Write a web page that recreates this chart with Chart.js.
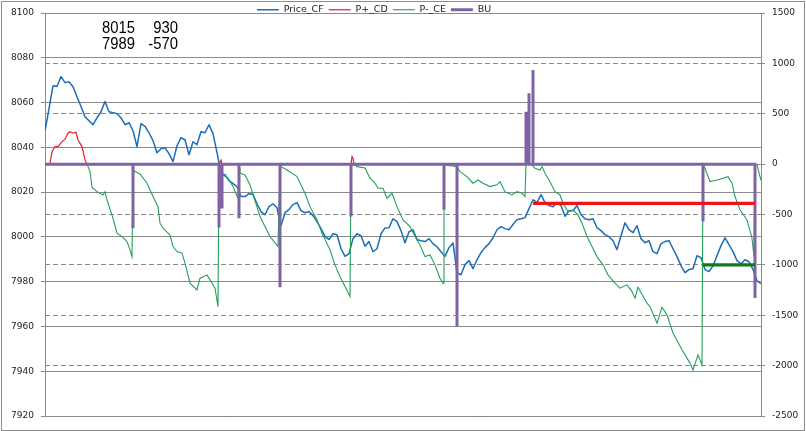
<!DOCTYPE html>
<html>
<head>
<meta charset="utf-8">
<script src="https://cdn.jsdelivr.net/npm/chart.js@4.4.1/dist/chart.umd.min.js"></script>
<style>
html,body{margin:0;padding:0;background:#fff;}
#wrap{width:806px;height:431px;}
</style>
</head>
<body>
<div id="wrap"><canvas id="c" width="806" height="431"></canvas></div>
<script>
// ---------- DATA ----------
// Time index runs 0..716 (one step per sample of the original series)
const PRICE_STEP = 4;
// Price_CF (left axis), one value every PRICE_STEP samples
const priceCF = [
  8047.4, 8057.3, 8067.5, 8067.2, 8071.6, 8068.9, 8069.3, 8067.1, 8062.6, 8058.2,
  8053.7, 8051.9, 8050.1, 8053.2, 8055.9, 8060.5, 8055.9, 8055.5, 8055.0, 8053.2,
  8050.1, 8051.0, 8047.4, 8040.3, 8050.6, 8049.4, 8046.5, 8043.0, 8037.6, 8039.4,
  8039.8, 8037.2, 8033.6, 8040.7, 8044.3, 8043.4, 8036.7, 8042.5, 8041.2, 8047.0,
  8046.5, 8050.1, 8046.1, 8037.6, 8028.2, 8027.8, 8025.1, 8023.8, 8022.4, 8018.0,
  8018.0, 8019.3, 8018.9, 8014.8, 8011.3, 8009.9, 8013.5, 8014.8, 8013.0, 8005.0,
  8010.8, 8012.2, 8014.4, 8015.3, 8011.7, 8010.8, 8011.3, 8009.5, 8006.8, 8003.7,
  8000.2, 7998.8, 8001.4, 8001.0, 7994.7, 7991.3, 7992.5, 7999.2, 8001.4, 8000.5,
  7995.8, 7997.9, 7993.4, 7994.7, 8001.4, 8004.0, 8004.1, 8008.1, 8006.8, 8002.8,
  7997.4, 8002.3, 8003.2, 7998.8, 7998.3, 7997.9, 7999.2, 7997.0, 7995.6, 7993.4,
  7991.3, 7995.2, 7997.3, 7984.0, 7983.1, 7987.6, 7989.4, 7985.8, 7989.8, 7993.0,
  7995.2, 7997.0, 7999.6, 8003.2, 8004.6, 8003.7, 8003.2, 8005.5, 8007.7, 8008.1,
  8008.6, 8012.6, 8016.6, 8015.3, 8018.9, 8015.3, 8014.0, 8013.5, 8015.3, 8014.0,
  8009.2, 8011.7, 8011.7, 8014.0, 8009.9, 8008.1, 8007.7, 8008.1, 8004.1, 8002.8,
  8001.0, 8000.1, 7998.3, 7994.3, 8000.5, 8006.3, 8003.2, 8001.9, 8005.0, 7999.2,
  7997.4, 7998.3, 7993.4, 7992.5, 7997.0, 7997.9, 7998.3, 7994.7, 7991.2, 7987.1,
  7984.0, 7985.4, 7985.8, 7991.6, 7990.7, 7985.4, 7984.5, 7987.1, 7991.6, 7996.1,
  7999.6, 7996.5, 7993.4, 7989.4, 7988.0, 7989.8, 7988.9, 7985.4, 7980.4, 7979.1
];
// P+_CD (right axis): [time index, value]
const pPlus = [
  [0,0],[5,9],[7,124],[10,174],[13,174],[17,223],[20,247],[23,307],[25,322],[28,307],
  [31,316],[33,240],[37,174],[40,42],[42,0],[174,0],[176,40],[177,0],[306,0],[307,75],
  [308,60],[309,0],[710,0]
];
// P-_CE (right axis): [time index, value]
const pMinus = [
  [0,0],[42,0],[45,-74],[47,-229],[52,-273],[58,-306],[60,-273],[62,-355],[68,-537],[72,-685],
  [77,-719],[82,-769],[85,-851],[87,-918],[88,-50],[90,-74],[95,-97],[102,-189],[108,-322],[113,-422],
  [115,-586],[118,-636],[125,-703],[128,-818],[132,-868],[137,-884],[140,-983],[145,-1182],[152,-1248],[155,-1132],
  [162,-1099],[165,-1149],[170,-1232],[173,-1414],[174,0],[176,0],[178,-107],[183,-140],[188,-223],[193,-338],
  [194,-40],[195,-90],[200,-107],[205,-206],[215,-521],[225,-719],[233,-818],[235,-20],[236,-25],[242,-58],
  [252,-124],[260,-289],[265,-422],[272,-554],[277,-686],[285,-851],[290,-1000],[295,-1116],[300,-1215],[305,-1314],
  [306,0],[309,0],[312,-25],[320,-38],[325,-140],[330,-189],[333,-239],[338,-239],[342,-338],[347,-289],
  [352,-422],[358,-554],[365,-620],[372,-752],[375,-802],[380,-918],[385,-901],[390,-1000],[395,-1132],[398,-1181],
  [399,0],[400,-8],[412,-25],[415,-74],[422,-124],[428,-189],[433,-157],[438,-189],[445,-223],[452,-206],
  [455,-174],[460,-273],[467,-306],[472,-273],[477,-289],[480,-322],[481,0],[486,0],[490,-41],[495,-58],
  [497,-25],[500,-90],[505,-174],[510,-273],[515,-306],[518,-388],[523,-471],[528,-454],[533,-504],[537,-586],
  [542,-719],[547,-818],[552,-918],[558,-1000],[563,-1099],[570,-1182],[575,-1231],[582,-1198],[587,-1265],[590,-1330],
  [593,-1221],[602,-1380],[605,-1414],[612,-1578],[617,-1420],[622,-1496],[628,-1677],[637,-1843],[645,-1975],[648,-2042],
  [653,-1893],[657,-1992],[658,0],[660,-41],[665,-174],[672,-157],[678,-140],[683,-124],[687,-189],[690,-322],
  [695,-454],[702,-554],[707,-735],[709,-918],[710,0],[712,-8],[715,-124],[716,-160]
];
// BU (right axis): events [time index, value]; zero elsewhere up to buEndT
const buEvents = [
  [88,-636],[174,-630],[177,-440],[194,-537],[235,-1221],[306,-520],[399,-454],
  [412,-1612],[481,521],[484,703],[488,934],[658,-570],[710,-1330]
];
const buEndT = 710;
// Horizontal price levels (left axis)
const levelValues = [8015, 7987.5];
const levelStartT = [488, 658];
const levelEndT = [710, 710];
// Note text (top-left)
const noteRow1 = ['8015', '930'];
const noteRow2 = ['7989', '-570'];
// Axis ticks
const leftTicks = [7920, 7940, 7960, 7980, 8000, 8020, 8040, 8060, 8080, 8100];
const rightTicks = [-2500, -2000, -1500, -1000, -500, 0, 500, 1000, 1500];
const seriesNames = ['Price_CF', 'P+_CD', 'P-_CE', 'BU'];

// ---------- BUILD ----------
const toXY = pairs => pairs.map(([t, v]) => ({x: t, y: v}));
const priceData = priceCF.map((v, i) => ({x: i * PRICE_STEP, y: v}));
const buData = [{x: 0, y: 0}];
buEvents.forEach(([t, v]) => { buData.push({x: t, y: 0}, {x: t, y: v}, {x: t, y: 0}); });
buData.push({x: buEndT, y: 0});
const levelData = levelValues.map((v, i) => [{x: levelStartT[i], y: v}, {x: levelEndT[i], y: v}]);

const GRID = '#8a8a8a';
const LEGEND_SHIFT = -29;

const framePlugin = {
  id: 'frame',
  afterLayout(chart) {
    const lg = chart.legend;
    if (lg) { lg.left += LEGEND_SHIFT; lg.right += LEGEND_SHIFT; lg.bottom += 6; }
  },
  beforeDraw(chart) {
    const c = chart.ctx;
    c.save();
    c.fillStyle = '#ffffff';
    c.fillRect(0, 0, chart.width, chart.height);
    c.strokeStyle = '#8c8c8c';
    c.lineWidth = 1;
    c.strokeRect(1.5, 1.5, chart.width - 3, chart.height - 2);
    c.restore();
  },
  afterDraw(chart) {
    const c = chart.ctx;
    const a = chart.chartArea;
    c.save();
    c.fillStyle = '#000';
    c.textAlign = 'right';
    c.textBaseline = 'alphabetic';
    c.font = '17px "Liberation Sans Narrow", "Liberation Sans", sans-serif';
    const w = c.measureText('8888').width;
    const sx = Math.min(1, 33 / w);
    const rows = [noteRow1, noteRow2];
    const colRight = [a.left + 90, a.left + 133];
    rows.forEach((row, r) => {
      row.forEach((txt, k) => {
        c.save();
        c.translate(colRight[k], a.top + 20 + r * 16);
        c.scale(sx, 1);
        c.fillText(txt, 0, 0);
        c.restore();
      });
    });
    c.restore();
  }
};

Chart.defaults.font.family = '"DejaVu Sans", sans-serif';
Chart.defaults.color = '#222';

new Chart(document.getElementById('c'), {
  type: 'line',
  data: {
    datasets: [
      {label: seriesNames[0], data: priceData, yAxisID: 'yL', borderColor: '#1c6db6', borderWidth: 1.5, order: 5, borderJoinStyle: 'round'},
      {label: seriesNames[1], data: toXY(pPlus), yAxisID: 'yR', borderColor: '#e3222c', borderWidth: 1.2, order: 4},
      {label: seriesNames[2], data: toXY(pMinus), yAxisID: 'yR', borderColor: '#23a058', borderWidth: 1.1, order: 3},
      {label: seriesNames[3], data: buData, yAxisID: 'yR', borderColor: '#7f63a5', borderWidth: 3, order: 2},
      {label: 'levelHigh', data: levelData[0], yAxisID: 'yL', borderColor: '#f01414', borderWidth: 3.2, order: 1},
      {label: 'levelLow', data: levelData[1], yAxisID: 'yL', borderColor: '#0f7a14', borderWidth: 3.2, order: 0}
    ]
  },
  options: {
    responsive: false,
    animation: false,
    devicePixelRatio: 1,
    layout: {padding: {left: 0, right: 0, top: 0, bottom: 15}},
    elements: {
      point: {radius: 0, hoverRadius: 0},
      line: {tension: 0, fill: false}
    },
    plugins: {
      legend: {
        display: true,
        position: 'top',
        maxHeight: 13,
        labels: {
          usePointStyle: true,
          pointStyle: 'line',
          pointStyleWidth: 22,
          padding: 5,
          color: '#222',
          font: {size: 9.5, family: '"DejaVu Sans", sans-serif'},
          filter: item => item.datasetIndex < seriesNames.length,
          sort: (a, b) => a.datasetIndex - b.datasetIndex
        }
      },
      tooltip: {enabled: false}
    },
    scales: {
      x: {
        type: 'linear',
        display: false,
        min: 0,
        max: (priceCF.length - 1) * PRICE_STEP
      },
      yL: {
        position: 'left',
        min: leftTicks[0],
        max: leftTicks[leftTicks.length - 1],
        afterBuildTicks: s => { s.ticks = leftTicks.map(v => ({value: v})); },
        afterFit: s => { s.width = 45; },
        ticks: {
          padding: 7,
          color: '#222',
          font: {size: 9, family: '"DejaVu Sans", sans-serif'},
          callback: v => String(v)
        },
        grid: {color: GRID, lineWidth: 1, tickLength: 4, tickColor: GRID, drawOnChartArea: true},
        border: {display: true, color: GRID, width: 1}
      },
      yR: {
        position: 'right',
        min: rightTicks[0],
        max: rightTicks[rightTicks.length - 1],
        afterBuildTicks: s => { s.ticks = rightTicks.map(v => ({value: v})); },
        afterFit: s => { s.width = 45; },
        ticks: {
          padding: 7,
          color: '#222',
          font: {size: 9, family: '"DejaVu Sans", sans-serif'},
          callback: v => String(v)
        },
        grid: {color: GRID, lineWidth: 1, tickLength: 4, tickColor: GRID, tickBorderDash: [], drawOnChartArea: true},
        border: {display: true, color: GRID, width: 1, dash: [5, 3]}
      }
    }
  },
  plugins: [framePlugin]
});
</script>
</body>
</html>
